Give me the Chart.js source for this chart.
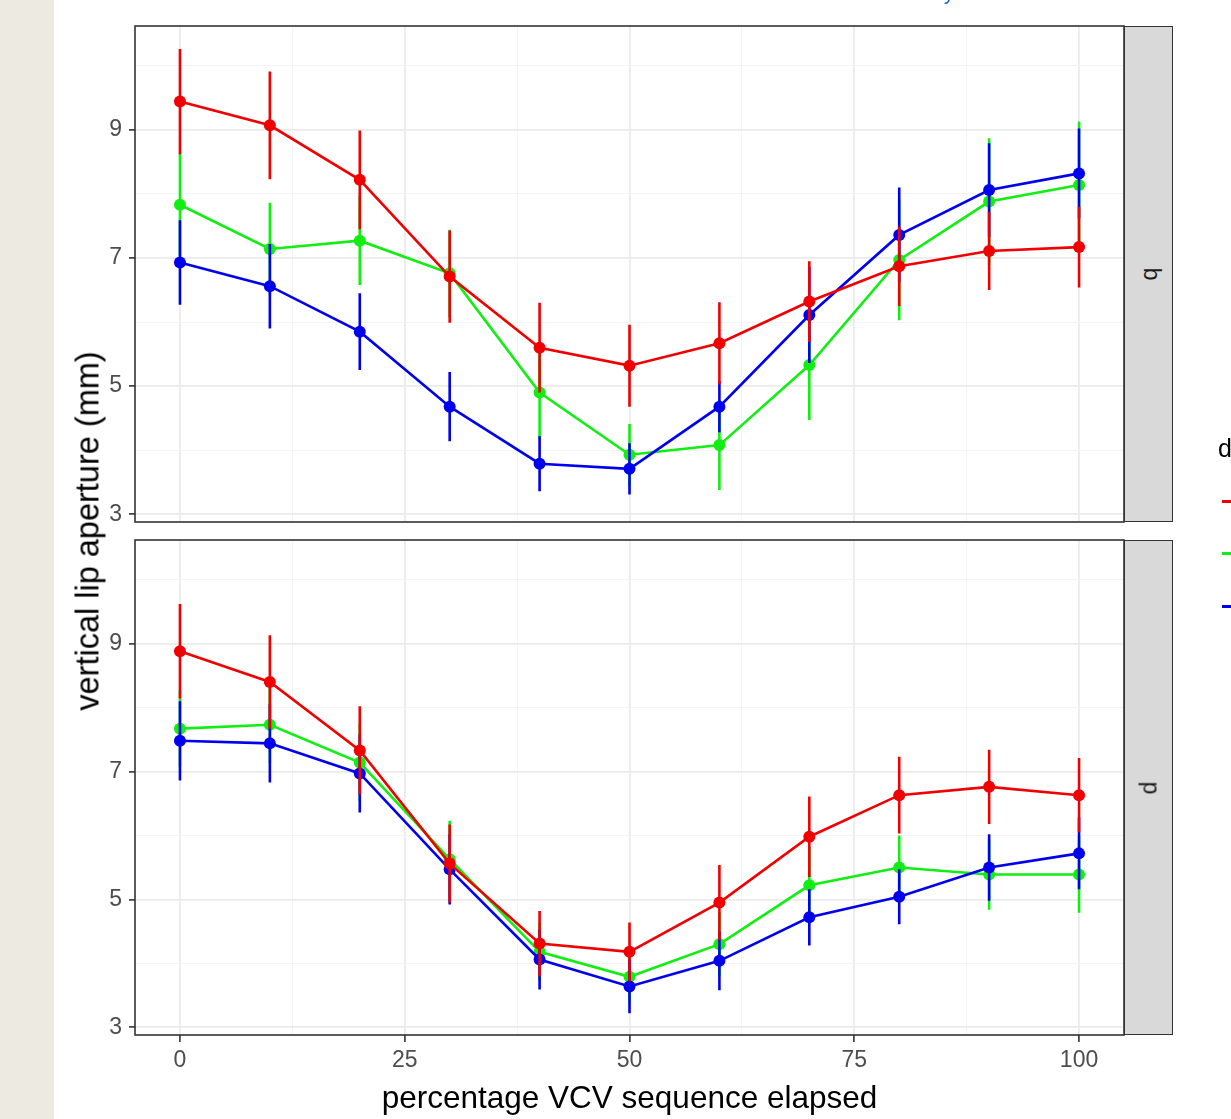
<!DOCTYPE html>
<html><head><meta charset="utf-8">
<script src="https://cdn.jsdelivr.net/npm/chart.js@4.4.1/dist/chart.umd.min.js"></script>
<style>
html,body{margin:0;padding:0;width:1231px;height:1119px;overflow:hidden;background:#fff;font-family:"Liberation Sans",Arial,sans-serif;}
#beige{position:absolute;left:0;top:0;width:54px;height:1119px;background:#EDEBE1;}
canvas{position:absolute;left:0;}
.strip{position:absolute;left:1124px;width:49px;background:#D9D9D9;border:1.5px solid #333;box-sizing:border-box;}
.stxt{position:absolute;left:50%;top:50%;transform:translate(-50%,-50%) rotate(-90deg);font-size:23px;color:#1A1A1A;line-height:23px;}
.key{position:absolute;left:1222px;width:20px;height:3px;}
#ytitle{position:absolute;left:88px;top:531px;transform:translate(-50%,-50%) rotate(-90deg);font-size:32.5px;white-space:nowrap;color:#000;line-height:31px;}
#xtitle{position:absolute;left:0;width:1259px;text-align:center;top:1081px;font-size:31.5px;line-height:32px;color:#000;white-space:nowrap;}
#legt{position:absolute;left:1218px;top:436px;font-size:25px;color:#000;line-height:25px;}
#topy{position:absolute;left:944px;top:-17px;font-size:20px;color:#1565C0;line-height:20px;}
</style></head>
<body>
<div id="beige"></div>
<canvas id="cq" width="1231" height="540" style="top:0"></canvas>
<canvas id="cd" width="1231" height="599" style="top:520px"></canvas>
<div class="strip" style="top:26px;height:496px"><div class="stxt">q</div></div>
<div class="strip" style="top:540px;height:495px"><div class="stxt">d</div></div>
<div id="ytitle">vertical lip aperture (mm)</div>
<div id="xtitle">percentage VCV sequence elapsed</div>
<div id="legt">d</div>
<div class="key" style="top:500px;background:#F00000"></div>
<div class="key" style="top:552px;background:#12EE12"></div>
<div class="key" style="top:605px;background:#0000EE"></div>
<div id="topy">y</div>
<script>
const xPct = [0,10,20,30,40,50,60,70,80,90,100];
const xTicks = [0,12.5,25,37.5,50,62.5,75,87.5,100];
const xTickLabels = [0,25,50,75,100];
const yTicks = [3,4,5,6,7,8,9,10];
const yTickLabels = [3,5,7,9];

// panel q
const qRed     = [9.44, 9.07, 8.22, 6.71, 5.60, 5.32, 5.67, 6.32, 6.87, 7.11, 7.17];
const qRedSE   = [0.82, 0.84, 0.77, 0.72, 0.70, 0.64, 0.64, 0.63, 0.62, 0.61, 0.63];
const qGreen   = [7.83, 7.14, 7.27, 6.76, 4.90, 3.93, 4.08, 5.33, 6.97, 7.88, 8.14];
const qGreenSE = [0.80, 0.72, 0.69, 0.68, 0.72, 0.48, 0.70, 0.86, 0.94, 0.99, 0.99];
const qBlue    = [6.93, 6.56, 5.85, 4.68, 3.79, 3.71, 4.68, 6.11, 7.36, 8.06, 8.32];
const qBlueSE  = [0.66, 0.66, 0.60, 0.54, 0.43, 0.40, 0.40, 0.75, 0.74, 0.73, 0.70];

// panel d
const dRed     = [8.88, 8.40, 7.33, 5.56, 4.31, 4.18, 4.95, 5.98, 6.63, 6.76, 6.63];
const dRedSE   = [0.74, 0.73, 0.69, 0.61, 0.51, 0.46, 0.59, 0.63, 0.60, 0.58, 0.58];
const dGreen   = [7.67, 7.73, 7.14, 5.63, 4.18, 3.79, 4.30, 5.22, 5.50, 5.39, 5.39];
const dGreenSE = [0.60, 0.60, 0.60, 0.60, 0.45, 0.40, 0.50, 0.60, 0.50, 0.55, 0.60];
const dBlue    = [7.48, 7.44, 6.97, 5.47, 4.06, 3.64, 4.04, 4.72, 5.04, 5.50, 5.72];
const dBlueSE  = [0.62, 0.61, 0.61, 0.55, 0.47, 0.42, 0.46, 0.44, 0.43, 0.52, 0.56];

const RED = '#F00000', GREEN = '#12EE12', BLUE = '#0000EE';

function lineDs(vals, col){
  return {type:'line', data: xPct.map((x,i)=>({x, y: vals[i]})), borderColor: col, backgroundColor: col,
    borderWidth: 2.6, pointRadius: 6, pointHoverRadius: 6, pointBorderWidth: 0, tension: 0, fill:false};
}
function errDs(vals, se, col){
  const d = [];
  xPct.forEach((x,i)=>{ d.push({x, y: vals[i]-se[i]}); d.push({x, y: vals[i]+se[i]}); d.push({x, y: null}); });
  return {type:'line', data: d, borderColor: col, backgroundColor: col, borderWidth: 2.6, pointRadius: 0, spanGaps:false, fill:false};
}

const frame = {id:'frame', afterDraw(c){ const a=c.chartArea, ctx=c.ctx; ctx.save(); ctx.strokeStyle='#333'; ctx.lineWidth=1.6; ctx.strokeRect(a.left,a.top,a.right-a.left,a.bottom-a.top); ctx.restore(); }};

function isMajorX(v){ return xTickLabels.includes(v); }
function isMajorY(v){ return yTickLabels.includes(v); }

function makeChart(id, red, redSE, green, greenSE, blue, blueSE, showX){
  return new Chart(document.getElementById(id), {
    type:'line',
    data:{datasets:[
      lineDs(red, RED), errDs(red, redSE, RED),
      lineDs(blue, BLUE), errDs(blue, blueSE, BLUE),
      lineDs(green, GREEN), errDs(green, greenSE, GREEN)
    ]},
    options:{
      responsive:false, animation:false, devicePixelRatio:1,
      layout:{padding:{left:0, right:107, top: showX?20:26, bottom:0}},
      plugins:{legend:{display:false}, tooltip:{enabled:false}},
      events:[],
      scales:{
        x:{type:'linear', min:-5, max:105,
          afterBuildTicks: s => { s.ticks = xTicks.map(v=>({value:v})); },
          afterFit: s => { s.height = showX ? 84 : 18; s.paddingLeft = 0; s.paddingRight = 0; },
          ticks:{display: showX, autoSkip:false, maxRotation:0, padding:5, color:'#4D4D4D',
            font:{family:'"Liberation Sans", Arial, sans-serif', size:23},
            callback: v => isMajorX(v) ? String(v) : ''},
          grid:{drawTicks: showX, tickLength:7,
            tickColor: ctx => (ctx.tick && isMajorX(ctx.tick.value)) ? '#333' : 'rgba(0,0,0,0)',
            tickWidth: 1.6,
            color: ctx => (ctx.tick && isMajorX(ctx.tick.value)) ? '#EBEBEB' : '#F3F3F3',
            lineWidth: ctx => (ctx.tick && isMajorX(ctx.tick.value)) ? 1.8 : 0.9},
          border:{display:false}
        },
        y:{type:'linear', min:2.88, max:10.62,
          afterBuildTicks: s => { s.ticks = yTicks.map(v=>({value:v})); },
          afterFit: s => { s.width = 135; s.paddingTop = 0; s.paddingBottom = 0; },
          ticks:{autoSkip:false, padding:7, color:'#4D4D4D',
            font:{family:'"Liberation Sans", Arial, sans-serif', size:23},
            callback: v => isMajorY(v) ? String(v) : ''},
          grid:{drawTicks:true, tickLength:6,
            tickColor: ctx => (ctx.tick && isMajorY(ctx.tick.value)) ? '#333' : 'rgba(0,0,0,0)',
            tickWidth: 1.6,
            color: ctx => (ctx.tick && isMajorY(ctx.tick.value)) ? '#EBEBEB' : '#F3F3F3',
            lineWidth: ctx => (ctx.tick && isMajorY(ctx.tick.value)) ? 1.8 : 0.9},
          border:{display:false}
        }
      }
    },
    plugins:[frame]
  });
}

makeChart('cq', qRed, qRedSE, qGreen, qGreenSE, qBlue, qBlueSE, false);
makeChart('cd', dRed, dRedSE, dGreen, dGreenSE, dBlue, dBlueSE, true);
</script>
</body></html>
